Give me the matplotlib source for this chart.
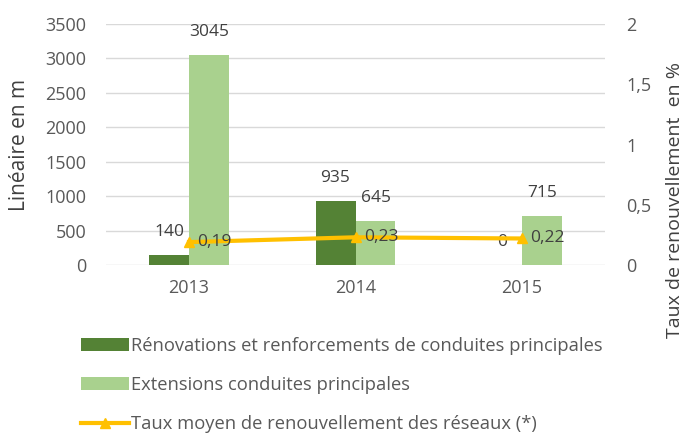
import numpy as np
import matplotlib.pyplot as plt
from matplotlib.ticker import FuncFormatter

years = ["2013", "2014", "2015"]
renovations = [140, 935, 0]
extensions = [3045, 645, 715]
taux = [0.19, 0.23, 0.22]

DARK = "#548235"
LIGHT = "#A9D18E"
GOLD = "#FFC000"
TXT = "#595959"

plt.rcParams['font.family'] = ['Open Sans', 'DejaVu Sans']

fig = plt.figure(figsize=(6.87, 4.34), dpi=100)
ax = fig.add_axes([0.154, 0.3894, 0.727, 0.5553])
ax2 = ax.twinx()

x = np.arange(len(years))
w = 0.24

b1 = ax.bar(x - w / 2, renovations, w, color=DARK,
            label="Rénovations et renforcements de conduites principales")
b2 = ax.bar(x + w / 2, extensions, w, color=LIGHT,
            label="Extensions conduites principales")
for bars, vals in [(b1, renovations), (b2, extensions)]:
    for r, v in zip(bars, vals):
        ax.annotate(str(v), (r.get_x() + r.get_width() / 2, v),
                    xytext=(0, 16.5), textcoords="offset points",
                    ha="center", va="center", color="#404040", fontsize=12.5)

ln, = ax2.plot(x, taux, color=GOLD, lw=3, marker="^", ms=7,
               label="Taux moyen de renouvellement des réseaux (*)")
for xi, t in zip(x, taux):
    ax2.annotate(("%.2f" % t).replace(".", ","), (xi, t),
                 xytext=(6, 0), textcoords="offset points",
                 ha="left", va="center", color="#404040", fontsize=12.5)

ax.set_xlim(-0.5, 2.5)
ax.set_ylim(0, 3500)
ax.set_yticks(np.arange(0, 3501, 500))
ax2.set_ylim(0, 2)
ax2.set_yticks([0, 0.5, 1, 1.5, 2])
ax2.yaxis.set_major_formatter(FuncFormatter(lambda v, p: ("%g" % v).replace(".", ",")))
ax.set_xticks(x)
ax.set_xticklabels(years)

ax.grid(axis="y", color="#D9D9D9", lw=1)
ax.set_axisbelow(True)
for a in (ax, ax2):
    for s in a.spines.values():
        s.set_visible(False)
    a.tick_params(length=0, colors=TXT, labelsize=13)
ax.tick_params(axis="y", pad=14)
ax.tick_params(axis="x", pad=10)
ax2.tick_params(axis="y", pad=15)

fig.text(0.028, 0.665, "Linéaire en m", rotation=90, ha="center", va="center",
         color="#404040", fontsize=15)
fig.text(0.982, 0.54, "Taux de renouvellement  en %", rotation=90, ha="center",
         va="center", color="#404040", fontsize=14)

fig.legend(handles=[b1, b2, ln], loc="upper left", bbox_to_anchor=(0.107, 0.24),
           frameon=False, handlelength=2.6, handletextpad=0.15, labelspacing=1.15,
           borderaxespad=0, labelcolor=TXT, fontsize=13.2)

fig.savefig("out.png", dpi=100)
